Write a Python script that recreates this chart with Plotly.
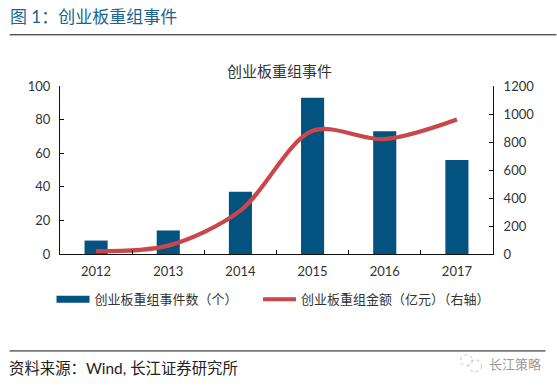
import plotly.graph_objects as go

years = ["2012", "2013", "2014", "2015", "2016", "2017"]
event_counts = [8, 14, 37, 93, 73, 56]
deal_amounts = [20, 60, 310, 880, 820, 960]
left_ticks = [0, 20, 40, 60, 80, 100]
right_ticks = [0, 200, 400, 600, 800, 1000, 1200]

bar_name = "创业板重组事件数（个）"
line_name = "创业板重组金额（亿元）（右轴）"
chart_title = "创业板重组事件"
heading = "图 1：创业板重组事件"
source = "资料来源：Wind, 长江证券研究所"
watermark = "长江策略"

BLUE = "#03527f"
RED = "#c9474b"
TEXT = "#333333"
FONT = "Lato, 'Noto Sans CJK SC', sans-serif"

W, H = 557, 387
L, R, T, B = 59.5, 493.5, 85.5, 254.5

fig = go.Figure()
fig.add_bar(x=years, y=event_counts, name=bar_name, marker_color=BLUE,
            marker_line_width=0, width=0.32, showlegend=False, yaxis="y")
fig.add_scatter(x=[None], y=[None], mode="lines", name=bar_name,
                line=dict(color=BLUE, width=7), yaxis="y", legend="legend")
fig.add_scatter(x=years, y=deal_amounts, mode="lines", name=line_name,
                line=dict(color=RED, width=4.2, shape="spline", smoothing=0.9),
                yaxis="y2", legend="legend2")

axis_line = dict(showline=True, linecolor="#111111", linewidth=1, ticks="inside",
                 ticklen=4, tickcolor="#111111", showgrid=False, zeroline=False,
                 tickfont=dict(size=13, color=TEXT, family=FONT))


def px(x):
    return (x - L) / (R - L)


def py(y):
    return (B - y) / (B - T)


def legend_at(x):
    return dict(orientation="h", x=px(x), xanchor="left", y=py(285), yanchor="top",
                font=dict(size=13, color=TEXT, family=FONT), itemwidth=33,
                bgcolor="rgba(0,0,0,0)")


icon_color = "#c4c4c4"
fig.update_layout(
    width=W, height=H, autosize=False,
    paper_bgcolor="white", plot_bgcolor="white", bargap=0.68,
    font=dict(family=FONT, color=TEXT),
    margin=dict(l=L, r=W - R, t=T, b=H - B, pad=0),
    xaxis=dict(type="category", tickson="boundaries", ticklabelstandoff=5, **axis_line),
    yaxis=dict(range=[0, 100], tickvals=left_ticks, ticklabelstandoff=6, **axis_line),
    yaxis2=dict(range=[0, 1200], tickvals=right_ticks, overlaying="y", side="right",
                ticklabelstandoff=7, **axis_line),
    legend=legend_at(51),
    legend2=legend_at(258),
    shapes=[
        dict(type="line", xref="paper", yref="paper", x0=px(9), x1=px(557),
             y0=py(34), y1=py(34), line=dict(color="#111111", width=1)),
        dict(type="line", xref="paper", yref="paper", x0=px(9), x1=px(546),
             y0=py(352), y1=py(352), line=dict(color="#111111", width=1)),
        dict(type="circle", xref="paper", yref="paper", x0=px(461), x1=px(473),
             y0=py(367), y1=py(356), line=dict(color=icon_color, width=1, dash="dot")),
        dict(type="circle", xref="paper", yref="paper", x0=px(469), x1=px(482),
             y0=py(373), y1=py(361), line=dict(color=icon_color, width=1, dash="dot")),
    ],
    annotations=[
        dict(text=heading, xref="paper", yref="paper", x=px(7.5), y=py(16),
             xanchor="left", yanchor="middle", showarrow=False,
             font=dict(size=17, color="#1b648f", family=FONT)),
        dict(text=chart_title, xref="paper", yref="paper", x=px(280), y=py(70),
             xanchor="center", yanchor="middle", showarrow=False,
             font=dict(size=15, color=TEXT, family=FONT)),
        dict(text=source, xref="paper", yref="paper", x=px(6), y=py(369),
             xanchor="left", yanchor="middle", showarrow=False,
             font=dict(size=15.4, color="#222222", family=FONT)),
        dict(text=watermark, xref="paper", yref="paper", x=px(487), y=py(365),
             xanchor="left", yanchor="middle", showarrow=False,
             font=dict(size=13, color="#999999", family=FONT)),
    ],
)
fig.write_html("out.html", config={"displayModeBar": False},
               post_script="document.body.style.margin='0';")
